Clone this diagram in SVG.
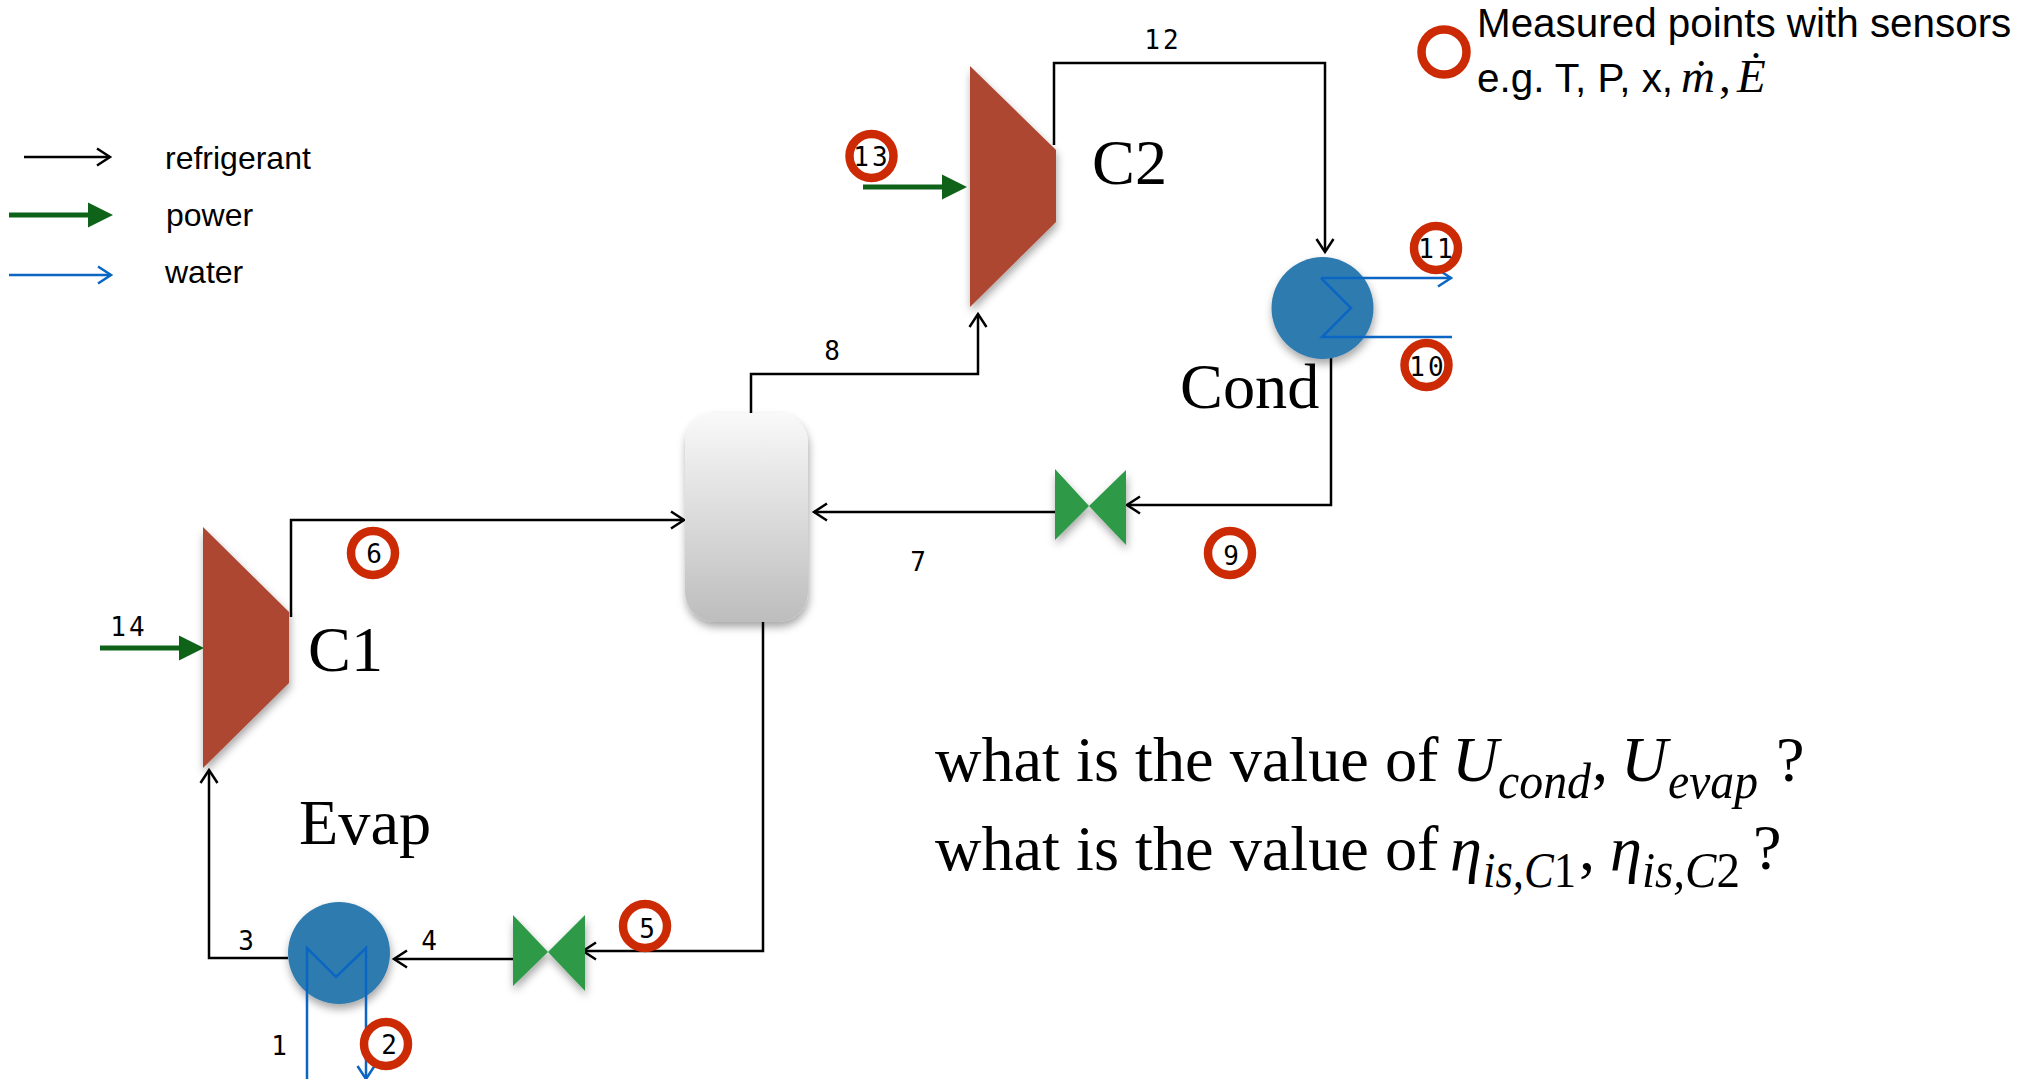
<svg xmlns="http://www.w3.org/2000/svg" width="2022" height="1079" viewBox="0 0 2022 1079">
<style>
.ref{fill:none;stroke:#000;stroke-width:2.5;stroke-linejoin:miter}
.wat{fill:none;stroke:#0A66C2;stroke-width:2.5}
.pow{fill:none;stroke:#0F6318;stroke-width:5}
.ring{fill:none;stroke:#CC2A05;stroke-width:8.5}
.comp{fill:#AE4733;filter:url(#sh)}
.hx{fill:#2E7BAF;filter:url(#sh)}
.valve{fill:#2F9A47;filter:url(#sh)}
.num{font-family:"DejaVu Sans Mono",monospace;font-size:26px;fill:#000;text-anchor:middle}
.wide{letter-spacing:3px}
.sans{font-family:"Liberation Sans",Arial,sans-serif;fill:#000}
.serif{font-family:"Liberation Serif","Times New Roman",serif;fill:#000;font-size:64.3px}
.it{font-style:italic}
.sub{font-size:50px}
.dot{font-size:47px}
</style>
<defs>
<filter id="sh" x="-20%" y="-20%" width="150%" height="150%"><feDropShadow dx="1" dy="5" stdDeviation="4" flood-color="#000" flood-opacity="0.35"/></filter>
<linearGradient id="tankg" x1="0" y1="0" x2="0" y2="1"><stop offset="0" stop-color="#F9F9F9"/><stop offset="1" stop-color="#BDBDBD"/></linearGradient>
<marker id="a" markerUnits="userSpaceOnUse" markerWidth="20" markerHeight="24" refX="15" refY="12" orient="auto" overflow="visible"><path d="M2,3.5L15,12L2,20.5" fill="none" stroke="#000" stroke-width="2.5"/></marker>
<marker id="w" markerUnits="userSpaceOnUse" markerWidth="20" markerHeight="24" refX="15" refY="12" orient="auto" overflow="visible"><path d="M2,3.5L15,12L2,20.5" fill="none" stroke="#0A66C2" stroke-width="2.5"/></marker>
</defs>

<g id="legend">
<path class="ref" d="M24,157H110" marker-end="url(#a)"/>
<path class="pow" d="M9,215H90"/><path d="M88,202.5L113,215L88,227.5Z" fill="#0F6318"/>
<path class="wat" d="M9,275H111" marker-end="url(#w)"/>
<text class="sans" font-size="32" x="165" y="169">refrigerant</text>
<text class="sans" font-size="32" x="166" y="226">power</text>
<text class="sans" font-size="32" x="165" y="283">water</text>
<ellipse class="ring" cx="1444" cy="52" rx="22.5" ry="22.5"/>
<text class="sans" font-size="40.4" x="1477" y="37">Measured points with sensors</text>
<text class="sans" font-size="40.4" x="1477" y="92">e.g. T, P, x,</text>
<text class="serif it dot" style="font-size:47px" x="1681" y="92">ṁ</text>
<text class="serif" style="font-size:47px" x="1719" y="92">,</text>
<text class="serif it" style="font-size:47px" x="1737" y="92">Ė</text>
</g>

<g id="connectors">
<path class="ref" d="M291,617V520H684" marker-end="url(#a)"/>
<path class="ref" d="M751,415V374H978V314" marker-end="url(#a)"/>
<path class="ref" d="M1054,145V63H1325V252" marker-end="url(#a)"/>
<path class="ref" d="M1331,358V505H1127" marker-end="url(#a)"/>
<path class="ref" d="M1055,512H814" marker-end="url(#a)"/>
<path class="ref" d="M763,620V951H583" marker-end="url(#a)"/>
<path class="ref" d="M513,959H394" marker-end="url(#a)"/>
<path class="ref" d="M288,958H209V770" marker-end="url(#a)"/>
<path class="pow" d="M100,648H182"/><path d="M179,635.5L204,648L179,660.5Z" fill="#0F6318"/>
<path class="pow" d="M863,187H945"/><path d="M942,174.5L967,187L942,199.5Z" fill="#0F6318"/>
</g>

<g id="C1"><path class="comp" d="M203,527L289,612V683L203,768Z"/><text class="serif" x="308" y="671">C1</text></g>
<g id="C2"><path class="comp" d="M970,66L1056,150V222L970,307Z"/><text class="serif" x="1092" y="184">C2</text></g>
<g id="Cond"><circle class="hx" cx="1322.5" cy="308" r="51"/><text class="serif" x="1180" y="408">Cond</text></g>
<g id="Evap"><circle class="hx" cx="339" cy="953" r="51"/><text class="serif" x="299" y="844">Evap</text></g>
<g id="Tank"><rect x="685" y="413" width="123" height="209" rx="30" ry="30" fill="url(#tankg)" filter="url(#sh)"/></g>
<g id="ValveTop"><path class="valve" d="M1055,469L1089,506L1126,470V545L1089,506L1055,540Z"/></g>
<g id="ValveBottom"><path class="valve" d="M513,915L548,952L585,915V991L548,952L513,986Z"/></g>

<g id="water">
<path class="wat" d="M1321,278H1451" marker-end="url(#w)"/>
<path class="wat" d="M1321,278L1351,308L1322,337H1452"/>
<path class="wat" d="M307,1079V948L336,977L366,948V1079" marker-end="url(#w)"/>
</g>

<g id="labels">
<text class="num wide" x="1163" y="49">12</text>
<text class="num" x="832" y="360">8</text>
<text class="num" x="918" y="571">7</text>
<text class="num wide" x="129" y="636">14</text>
<text class="num" x="246" y="950">3</text>
<text class="num" x="429" y="950">4</text>
<text class="num" x="279" y="1055">1</text>
</g>

<g id="p2"><circle class="ring" cx="386" cy="1044" r="22"/><text class="num" x="389" y="1054">2</text></g>
<g id="p5"><circle class="ring" cx="645" cy="926" r="22"/><text class="num" x="647" y="938">5</text></g>
<g id="p6"><circle class="ring" cx="373" cy="553" r="22"/><text class="num" x="374" y="563">6</text></g>
<g id="p9"><circle class="ring" cx="1230" cy="553" r="22"/><text class="num" x="1231" y="565">9</text></g>
<g id="p10"><circle class="ring" cx="1426.5" cy="365" r="22"/><text class="num wide" x="1428" y="376">10</text></g>
<g id="p11"><circle class="ring" cx="1436" cy="248" r="22"/><text class="num wide" x="1437" y="258">11</text></g>
<g id="p13"><circle class="ring" cx="871.5" cy="156" r="22"/><text class="num wide" x="872" y="166">13</text></g>

<g id="question">
<text class="serif" x="935" y="781">what is the value of</text>
<text class="serif it" x="1452" y="781">U</text>
<text class="serif it sub" x="1498" y="798" textLength="93" lengthAdjust="spacingAndGlyphs">cond</text>
<text class="serif" x="1592" y="781">,</text>
<text class="serif it" x="1621" y="781">U</text>
<text class="serif it sub" x="1668" y="798" textLength="90" lengthAdjust="spacingAndGlyphs">evap</text>
<text class="serif" x="1776" y="781">?</text>
<text class="serif" x="935" y="870">what is the value of</text>
<text class="serif it" x="1450" y="870">η</text>
<text class="serif sub" x="1483" y="887" textLength="93" lengthAdjust="spacingAndGlyphs"><tspan class="it">is,C</tspan>1</text>
<text class="serif" x="1579" y="870">,</text>
<text class="serif it" x="1610" y="870">η</text>
<text class="serif sub" x="1642" y="887" textLength="98" lengthAdjust="spacingAndGlyphs"><tspan class="it">is,C</tspan>2</text>
<text class="serif" x="1753" y="869">?</text>
</g>
</svg>
